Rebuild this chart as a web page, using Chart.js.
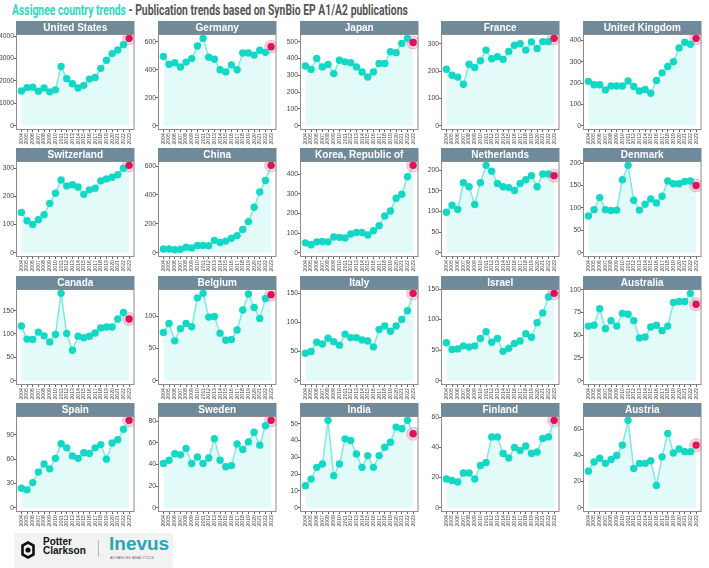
<!DOCTYPE html>
<html>
<head>
<meta charset="utf-8">
<script src="https://cdn.jsdelivr.net/npm/chart.js@4.4.0/dist/chart.umd.min.js"></script>
<style>
  body { margin: 0; background: #fff; width: 709px; height: 568px; overflow: hidden; position: relative; font-family: "Liberation Sans Narrow", "Roboto", sans-serif; }
  #title { position: absolute; left: 12px; top: 1px; font-weight: bold; font-size: 15px; white-space: nowrap; transform-origin: 0 0; color: #555; }
  #title span { color: #2fd6c0; }
  canvas.cell { position: absolute; }
  #logo { position: absolute; left: 14px; top: 533px; width: 159px; height: 35px; background: #f2f2f2; }
  #pc { position: absolute; left: 29px; top: 4px; font: bold 10px/9px "Liberation Sans", sans-serif; color: #111; }
  #sep { position: absolute; left: 84px; top: 7px; width: 1px; height: 17px; background: #bbb; }
  #inevus { position: absolute; left: 95px; top: 0px; font: bold 19px "Liberation Sans", sans-serif; color: #2aa6b0; }
  #aa { position: absolute; left: 96px; top: 23px; font: 3.6px "Liberation Sans", sans-serif; color: #666; letter-spacing: 0.2px; }
</style>
</head>
<body>
<div id="title"><span>Assignee country trends</span> - Publication trends based on SynBio EP A1/A2 publications</div>
<div id="logo">
  <svg width="14" height="18" style="position:absolute;left:7px;top:8px" viewBox="0 0 14 18">
    <polygon points="7,1.5 12.5,4.5 12.5,13.5 7,16.5 1.5,13.5 1.5,4.5" fill="none" stroke="#111" stroke-width="2.6"/>
    <circle cx="7" cy="9" r="2.6" fill="#111"/>
  </svg>
  <div id="pc">Potter<br>Clarkson</div>
  <div id="sep"></div>
  <div id="inevus">Inevus</div>
  <div id="aa">ADVANCED ANALYTICS</div>
</div>
<script>
// years on the x axis
const years = [2004, 2005, 2006, 2007, 2008, 2009, 2010, 2011, 2012, 2013,
  2014, 2015, 2016, 2017, 2018, 2019, 2020, 2021, 2022, 2023];

// publications per year
const unitedStates = [1550, 1700, 1720, 1540, 1680, 1510, 1600, 2640, 2100, 1870, 1680, 1800, 2080, 2150, 2560, 2920, 3220, 3380, 3620, 3900];
const germany = [495, 440, 450, 420, 455, 480, 570, 625, 490, 475, 400, 385, 435, 400, 520, 520, 505, 540, 525, 565];
const japan = [355, 335, 400, 350, 365, 310, 390, 380, 375, 350, 320, 290, 320, 370, 370, 440, 435, 490, 520, 495];
const france = [207, 185, 178, 152, 225, 213, 238, 277, 245, 253, 243, 272, 295, 300, 277, 307, 283, 308, 308, 320];
const unitedKingdom = [208, 192, 192, 168, 186, 186, 186, 210, 184, 163, 170, 152, 212, 248, 278, 300, 365, 392, 382, 410];
const switzerland = [143, 113, 100, 117, 135, 175, 211, 258, 237, 241, 233, 207, 223, 229, 255, 262, 268, 277, 300, 310];
const china = [25, 25, 20, 23, 38, 33, 50, 50, 48, 85, 70, 80, 100, 118, 160, 215, 315, 420, 500, 605];
const korea = [50, 40, 55, 57, 55, 80, 78, 75, 95, 103, 103, 90, 112, 137, 187, 212, 277, 298, 387, 445];
const netherlands = [98, 115, 105, 170, 160, 117, 170, 212, 198, 168, 160, 158, 151, 168, 177, 187, 160, 191, 191, 187];
const denmark = [82, 96, 123, 96, 94, 95, 163, 195, 117, 95, 108, 120, 111, 126, 160, 154, 154, 159, 160, 150];
const canada = [117, 89, 88, 104, 96, 83, 99, 187, 101, 65, 95, 92, 95, 102, 113, 115, 115, 132, 146, 132];
const belgium = [75, 89, 62, 81, 89, 84, 129, 136, 99, 100, 74, 63, 64, 79, 110, 135, 114, 97, 128, 134];
const italy = [47, 50, 66, 63, 73, 67, 61, 80, 74, 74, 70, 68, 58, 88, 94, 85, 94, 105, 120, 150];
const israel = [62, 51, 52, 57, 55, 57, 69, 80, 63, 69, 48, 53, 61, 65, 77, 71, 95, 111, 137, 143];
const australia = [60, 61, 79, 57, 66, 60, 74, 73, 66, 47, 48, 59, 61, 55, 60, 86, 87, 87, 96, 84];
const spain = [24, 22, 31, 44, 54, 48, 61, 79, 74, 64, 61, 68, 67, 74, 78, 60, 80, 84, 97, 108];
const sweden = [41, 44, 50, 49, 55, 41, 47, 41, 46, 64, 44, 38, 39, 59, 54, 61, 70, 58, 76, 81];
const india = [13, 17, 24, 26, 52, 19, 26, 41, 40, 32, 24, 31, 24, 31, 36, 39, 48, 47, 52, 44];
const finland = [19, 18, 17, 23, 23, 19, 28, 30, 47, 47, 36, 33, 40, 38, 41, 36, 37, 46, 47, 58];
const austria = [28, 35, 38, 34, 37, 40, 48, 67, 30, 34, 34, 36, 17, 39, 57, 42, 45, 43, 43, 48];

// panel titles, in reading order
const countries = ["United States", "Germany", "Japan", "France", "United Kingdom",
  "Switzerland", "China", "Korea, Republic of", "Netherlands", "Denmark",
  "Canada", "Belgium", "Italy", "Israel", "Australia",
  "Spain", "Sweden", "India", "Finland", "Austria"];
const series = [unitedStates, germany, japan, france, unitedKingdom,
  switzerland, china, korea, netherlands, denmark,
  canada, belgium, italy, israel, australia,
  spain, sweden, india, finland, austria];

// y tick labels of each panel
const yTicks = [
  [0, 1000, 2000, 3000, 4000], [0, 200, 400, 600], [0, 100, 200, 300, 400, 500], [0, 100, 200, 300], [0, 100, 200, 300, 400],
  [0, 100, 200, 300], [0, 200, 400, 600], [0, 100, 200, 300, 400], [0, 50, 100, 150, 200], [0, 50, 100, 150, 200],
  [0, 50, 100, 150], [0, 50, 100], [0, 50, 100, 150], [0, 50, 100, 150], [0, 25, 50, 75, 100],
  [0, 30, 60, 90], [0, 20, 40, 60, 80], [0, 10, 20, 30, 40, 50], [0, 20, 40, 60], [0, 20, 40, 60]
];

const STRIP = 13;

const panelPlugin = {
  id: "panel",
  afterDraw(chart) {
    const { ctx, chartArea: a } = chart;
    ctx.save();
    ctx.strokeStyle = "#8c8c8c";
    ctx.lineWidth = 1;
    ctx.strokeRect(a.left + 0.5, a.top + 0.5, a.right - a.left - 1, a.bottom - a.top - 1);
    ctx.fillStyle = "#718a99";
    ctx.fillRect(a.left, a.top - STRIP, a.right - a.left, STRIP);
    ctx.fillStyle = "#fff";
    ctx.font = "bold 10px 'Liberation Sans Narrow', sans-serif";
    ctx.textAlign = "center";
    ctx.textBaseline = "middle";
    ctx.fillText(chart.options.plugins.panel.name, (a.left + a.right) / 2, a.top - STRIP / 2 + 0.5);
    ctx.restore();
  }
};

series.forEach((values, i) => {
  const col = i % 5, row = Math.floor(i / 5);
  const canvas = document.createElement("canvas");
  canvas.className = "cell";
  canvas.width = 142;
  canvas.height = 127;
  canvas.style.left = Math.round(col * 141.8) + "px";
  canvas.style.top = Math.round(21 + row * 127.3) + "px";
  document.body.appendChild(canvas);

  const pts = values.map((v, j) => ({ x: years[j], y: v }));
  const last = pts.length - 1;
  const top = Math.max(...values);
  const ticks = yTicks[i];

  new Chart(canvas, {
    type: "line",
    data: {
      datasets: [
        {
          data: pts,
          order: 0,
          borderColor: "rgba(80,225,210,0.7)",
          borderWidth: 1.5,
          backgroundColor: "#e3fbf8",
          fill: "origin",
          tension: 0,
          pointRadius: 3.7,
          pointBorderWidth: 0,
          pointBackgroundColor: pts.map((p, j) => (j === last ? "#e0105c" : "#12d8c5"))
        },
        {
          data: [pts[last]],
          order: 1,
          showLine: false,
          fill: false,
          pointRadius: 6.5,
          pointBorderWidth: 1,
          pointBackgroundColor: "rgba(235,120,160,0.32)",
          pointBorderColor: "rgba(215,100,140,0.35)"
        }
      ]
    },
    options: {
      responsive: false,
      animation: false,
      events: [],
      layout: { padding: { top: STRIP, left: 0, right: 0, bottom: 0 } },
      plugins: {
        legend: { display: false },
        tooltip: { enabled: false },
        filler: { drawTime: "beforeDatasetsDraw" },
        panel: { name: countries[i] }
      },
      scales: {
        x: {
          type: "linear",
          min: 2004 - 0.95,
          max: 2023 + 0.95,
          afterBuildTicks: (s) => { s.ticks = years.map((v) => ({ value: v })); },
          afterFit: (s) => { s.height = 18; },
          border: { display: false },
          grid: { drawOnChartArea: false, tickLength: 2, color: "#666" },
          ticks: {
            autoSkip: false, minRotation: 90, maxRotation: 90, padding: 1,
            font: { size: 5.2, family: "'Liberation Sans Narrow', sans-serif" }, color: "#444",
            callback: (v) => String(v)
          }
        },
        y: {
          min: -0.05 * top,
          max: 1.05 * top,
          afterBuildTicks: (s) => { s.ticks = ticks.map((v) => ({ value: v })); },
          afterFit: (s) => { s.width = 16; },
          border: { display: false },
          grid: { drawOnChartArea: false, tickLength: 2, color: "#666" },
          ticks: {
            padding: 0,
            font: { size: 6.8, family: "'Liberation Sans Narrow', sans-serif" }, color: "#444",
            callback: (v) => String(v)
          }
        }
      }
    },
    plugins: [panelPlugin]
  });
});

// squeeze the title to the width it has in the picture
const title = document.getElementById("title");
title.style.transform = "scaleX(" + (396 / title.offsetWidth) + ")";
</script>
</body>
</html>
